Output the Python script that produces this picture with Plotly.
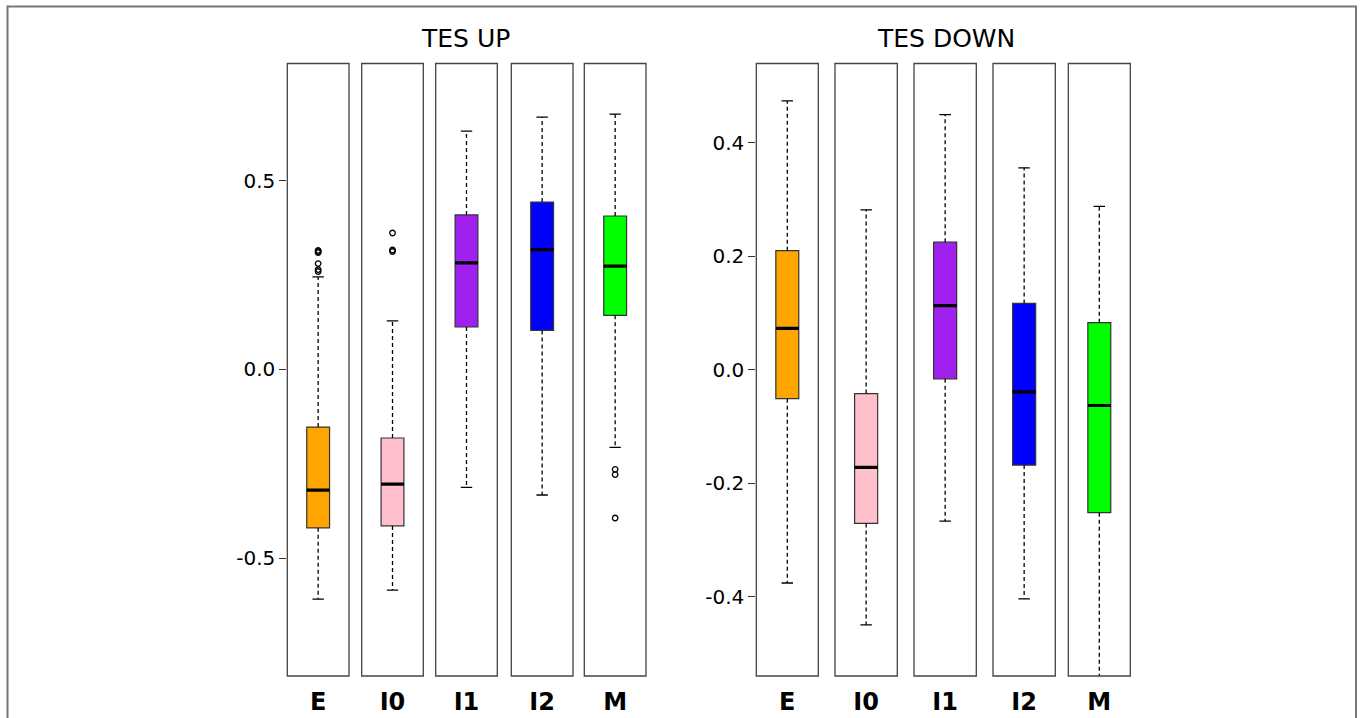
import plotly.graph_objects as go

# ---------------- data ----------------
categories = ["E", "I0", "I1", "I2", "M"]
colors = ["#FFA500", "#FFC0CB", "#A020F0", "#0000FF", "#00FF00"]

panel_titles = ["TES UP", "TES DOWN"]

# TES UP
up_q1 = [-0.420, -0.415, 0.112, 0.103, 0.143]
up_median = [-0.320, -0.304, 0.282, 0.317, 0.273]
up_q3 = [-0.153, -0.182, 0.409, 0.443, 0.406]
up_low = [-0.609, -0.585, -0.313, -0.333, -0.207]
up_high = [0.245, 0.128, 0.631, 0.668, 0.676]
up_outliers = [
    [0.309, 0.312, 0.315, 0.280, 0.264, 0.259],
    [0.361, 0.312, 0.316],
    [],
    [],
    [-0.265, -0.279, -0.394],
]

# TES DOWN
down_q1 = [-0.051, -0.271, -0.016, -0.168, -0.252]
down_median = [0.073, -0.172, 0.113, -0.039, -0.063]
down_q3 = [0.210, -0.042, 0.225, 0.117, 0.083]
down_low = [-0.376, -0.450, -0.267, -0.404, -0.580]
down_high = [0.474, 0.282, 0.450, 0.356, 0.288]
down_outliers = [[], [], [], [], []]

up_tickvals = [-0.5, 0.0, 0.5]
up_ticktext = ["-0.5", "0.0", "0.5"]
down_tickvals = [-0.4, -0.2, 0.0, 0.2, 0.4]
down_ticktext = ["-0.4", "-0.2", "0.0", "0.2", "0.4"]

up_range = [-0.8125, 0.81]
down_range = [-0.54, 0.54]

# ---------------- layout geometry (page pixels) ----------------
W, H = 1362, 718


def px_x(p):
    return p / W


def px_y(p):
    return 1 - p / H


frames_px = [
    (287.3, 349.0), (361.7, 423.3), (435.7, 497.3), (511.3, 573.0), (584.3, 646.0),
    (756.3, 818.3), (835.0, 897.3), (914.0, 976.3), (993.0, 1055.3), (1068.3, 1130.3),
]
y_top_px, y_bot_px = 63.5, 676.0
ydom = [px_y(y_bot_px), px_y(y_top_px)]

BOX_HALF = 0.185
CAP_HALF = 0.0925
FONT = "DejaVu Sans"

fig = go.Figure()

groups = [
    (up_q1, up_median, up_q3, up_low, up_high, up_outliers, "y"),
    (down_q1, down_median, down_q3, down_low, down_high, down_outliers, "y2"),
]

layout_axes = {}
shapes = []
k = 0
for g, (q1s, meds, q3s, lows, highs, outs, yname) in enumerate(groups):
    for i, cat in enumerate(categories):
        k += 1
        xname = "x" if k == 1 else f"x{k}"
        axkey = "xaxis" if k == 1 else f"xaxis{k}"
        x0p, x1p = frames_px[k - 1]
        layout_axes[axkey] = dict(
            domain=[px_x(x0p), px_x(x1p)],
            range=[-0.5, 0.5],
            anchor=yname,
            tickvals=[0],
            ticktext=[cat],
            ticks="outside",
            ticklen=4,
            tickcolor="rgba(0,0,0,0)",
            tickfont=dict(family=FONT, size=24, color="black", weight="bold"),
            showgrid=False,
            zeroline=False,
            showline=False,
            fixedrange=True,
        )
        # box body
        fig.add_trace(go.Bar(
            x=[0], y=[q3s[i] - q1s[i]], base=[q1s[i]], width=2 * BOX_HALF,
            marker=dict(color=colors[i], line=dict(color="#333333", width=1.2)),
            xaxis=xname, yaxis=yname, hoverinfo="skip",
        ))
        # whiskers (dashed)
        fig.add_trace(go.Scatter(
            x=[0, 0, None, 0, 0], y=[q3s[i], highs[i], None, q1s[i], lows[i]],
            mode="lines", line=dict(color="black", width=1.3, dash="4px,3px"),
            xaxis=xname, yaxis=yname, hoverinfo="skip",
        ))
        # caps
        fig.add_trace(go.Scatter(
            x=[-CAP_HALF, CAP_HALF, None, -CAP_HALF, CAP_HALF],
            y=[highs[i], highs[i], None, lows[i], lows[i]],
            mode="lines", line=dict(color="black", width=1.3),
            xaxis=xname, yaxis=yname, hoverinfo="skip",
        ))
        # median
        fig.add_trace(go.Scatter(
            x=[-BOX_HALF, BOX_HALF], y=[meds[i], meds[i]],
            mode="lines", line=dict(color="black", width=3.2),
            xaxis=xname, yaxis=yname, hoverinfo="skip",
        ))
        # outliers
        if outs[i]:
            fig.add_trace(go.Scatter(
                x=[0] * len(outs[i]), y=outs[i], mode="markers",
                marker=dict(symbol="circle-open", size=5.5, color="black",
                            line=dict(width=1.3, color="black")),
                xaxis=xname, yaxis=yname, hoverinfo="skip", cliponaxis=True,
            ))
        # frame
        shapes.append(dict(
            type="rect", xref=f"{xname} domain", yref=f"{yname} domain",
            x0=0, x1=1, y0=0, y1=1, line=dict(color="#444444", width=1.3),
            layer="above",
        ))

yaxis_common = dict(
    domain=ydom, ticks="outside", ticklen=7, tickwidth=1.1, tickcolor="#333333",
    tickfont=dict(family=FONT, size=20, color="black"),
    showgrid=False, zeroline=False, showline=False, fixedrange=True,
)
layout_axes["yaxis"] = dict(yaxis_common, range=up_range, anchor="x",
                            tickvals=up_tickvals, ticktext=up_ticktext)
layout_axes["yaxis2"] = dict(yaxis_common, range=down_range, anchor="x6",
                             tickvals=down_tickvals, ticktext=down_ticktext)

# outer border (left, top, right edges visible)
shapes.append(dict(
    type="rect", xref="paper", yref="paper",
    x0=px_x(7.5), x1=px_x(1356), y0=-0.05, y1=px_y(6.5),
    line=dict(color="#777777", width=2),
))

annotations = [
    dict(text=panel_titles[0], x=px_x(465), y=px_y(38.5), xref="paper", yref="paper",
         showarrow=False, xanchor="center", yanchor="middle",
         font=dict(family=FONT, size=25, color="black")),
    dict(text=panel_titles[1], x=px_x(946), y=px_y(38.5), xref="paper", yref="paper",
         showarrow=False, xanchor="center", yanchor="middle",
         font=dict(family=FONT, size=25, color="black")),
]

fig.update_layout(
    width=W, height=H,
    margin=dict(l=0, r=0, t=0, b=0),
    paper_bgcolor="white", plot_bgcolor="white",
    showlegend=False, hovermode=False,
    barmode="overlay",
    shapes=shapes, annotations=annotations,
    **layout_axes,
)

fig.write_html(
    "out.html",
    config={"displayModeBar": False},
    post_script="document.body.style.margin='0';document.body.style.overflow='hidden';",
)
